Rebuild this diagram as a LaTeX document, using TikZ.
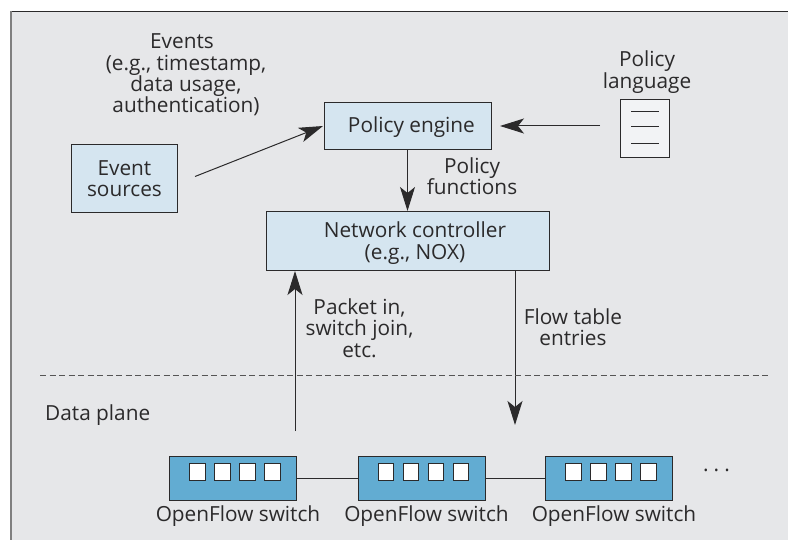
\documentclass[tikz,border=0pt]{standalone}
\usepackage{fontspec}
\setmainfont{Open Sans}
\usetikzlibrary{arrows.meta}
\definecolor{bgc}{HTML}{E6E7E9}
\definecolor{boxc}{HTML}{D5E5F0}
\definecolor{swc}{HTML}{62ACD2}
\definecolor{docc}{HTML}{F2F3F5}
\definecolor{ink}{HTML}{2B2A2B}
\tikzset{
 x=1pt,y=-1pt,
 lbl/.style={text=ink,font=\fontsize{20.8}{21.3}\selectfont,align=center,inner sep=0pt},
 bx/.style={draw=ink,line width=0.9pt,fill=boxc,lbl,anchor=north west},
 sw/.style={draw=ink,line width=0.9pt,fill=swc,anchor=north west,minimum width=127pt,minimum height=43.5pt,inner sep=0pt},
 pt/.style={draw=ink,line width=0.9pt,fill=white,anchor=north west,minimum width=15.5pt,minimum height=17pt,inner sep=0pt},
 ar/.style={draw=ink,line width=1pt,-{Stealth[length=24pt,width=15pt,inset=6pt]}},
 ln/.style={draw=ink,line width=0.9pt}
}
\begin{document}
\begin{tikzpicture}
\useasboundingbox (0,0) rectangle (788,540);
\fill[white] (0,0) rectangle (788,540);
\fill[bgc] (11,11) rectangle (788,540);
\draw[draw=ink,line width=0.8pt] (788,11.3) -- (11,11.3);
\draw[draw=gray,line width=1.2pt] (11,11) -- (11,540);
\node[bx,minimum width=106pt,minimum height=67.5pt] (src) at (71,144.5) {Event\\sources};
\node[bx,minimum width=167pt,minimum height=47.5pt,label={[lbl,xshift=3.5pt,yshift=-1pt]center:Policy engine}] (eng) at (324,102) {};
\node[bx,minimum width=283pt,minimum height=59pt,label={[lbl,xshift=7pt,yshift=-2pt]center:{Network controller\\(e.g., NOX)}}] (ctl) at (266,211) {};
\node[draw=ink,line width=0.9pt,fill=docc,anchor=north west,minimum width=49pt,minimum height=58.5pt,inner sep=0pt] (doc) at (620,99) {};
\coordinate (d1l) at (631,111); \coordinate (d1r) at (659,111);
\coordinate (d2l) at (631,126); \coordinate (d2r) at (659,126);
\coordinate (d3l) at (631,143); \coordinate (d3r) at (659,143);
\draw[ln] (d1l)--(d1r); \draw[ln] (d2l)--(d2r); \draw[ln] (d3l)--(d3r);
\node[lbl] (ev) at (186,75) {\hspace*{-8pt}Events\\(e.g., timestamp,\\data usage,\\authentication)};
\node[lbl] (pl) at (647,72) {Policy\\language};
\node[lbl] (pf) at (472,176.5) {Policy\\functions};
\node[lbl] (pi) at (359.5,328) {Packet in,\\switch join,\\etc.};
\node[lbl] (ft) at (573,327) {Flow table\\entries};
\node[lbl,anchor=west] (dp) at (45,415) {Data plane};
\coordinate (a1s) at (195,176.5); \coordinate (a1e) at (323,126);
\coordinate (a2s) at (600,126); \coordinate (a2e) at (500,126);
\coordinate (a4s) at (295,431); \coordinate (a4e) at (295,271);
\coordinate (a5e) at (515,425);
\coordinate (dl) at (40,375); \coordinate (dr) at (770,375);
\draw[ar] (a1s) -- (a1e);
\draw[ar] (a2s) -- (a2e);
\draw[ar] (eng.south -| 407.5,0) -- (ctl.north -| 407.5,0);
\draw[ar] (a4s) -- (a4e);
\draw[ar] (ctl.south -| a5e) -- (a5e);
\draw[draw=ink!80,line width=0.8pt,dash pattern=on 6pt off 3.5pt] (dl) -- (dr);
\foreach \n/\X in {a/169,b/357.5,c/545}{
 \node[sw] (s\n) at (\X,456) {};
 \foreach \d in {20,45,70,95}{\node[pt] at ({\X+\d},462.5) {};}
 \node[lbl] (t\n) at ({\X+69},516) {OpenFlow switch};
}
\draw[ln] (sa) -- (sb);
\draw[ln] (sb) -- (sc);
\node[lbl,anchor=base] (dots) at (716.5,471) {.\kern5pt.\kern5pt.};
\end{tikzpicture}
\end{document}
